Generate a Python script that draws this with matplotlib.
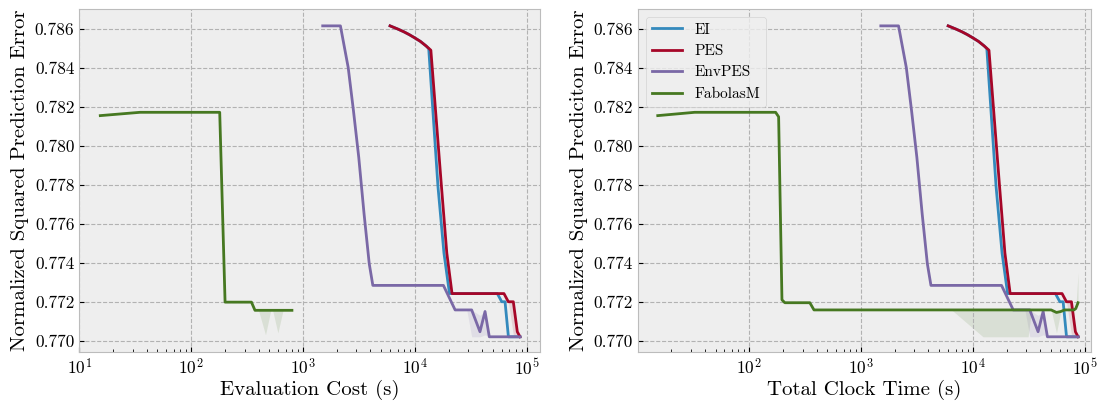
"""Recreate the two-panel convergence plot (evaluation cost / clock time)."""

import matplotlib

matplotlib.use("Agg")
import matplotlib.pyplot as plt

plt.style.use("bmh")
plt.rcParams.update({
    "font.family": "cmr10",
    "mathtext.fontset": "cm",
    "axes.formatter.use_mathtext": True,
    "axes.unicode_minus": False,
    "grid.linewidth": 0.8,
    "xtick.direction": "in",
    "ytick.direction": "in",
})

COLORS = {"EI": "#348ABD", "PES": "#A60628", "EnvPES": "#7A68A6", "FabolasM": "#467821"}

# EI (same x in both panels)
ei_x = [6000, 7080, 7940, 8910, 10000, 11220, 12590, 13300, 16100, 18200, 20400, 54600, 59800, 64000, 68600,
        87100]
ei_y = [0.78617, 0.78600, 0.78587, 0.78572, 0.78555, 0.78537, 0.78514, 0.78500, 0.7779, 0.7745, 0.77242,
        0.77242, 0.7720, 0.7720, 0.7702, 0.7702]

# PES
pes_x = [6000, 7080, 7940, 8910, 10000, 11220, 12590, 13900, 17300, 19300, 21500, 62600, 68500, 75900, 82400,
         87100]
pes_y = [0.78617, 0.78600, 0.78587, 0.78572, 0.78555, 0.78537, 0.78514, 0.78492, 0.7779, 0.7745, 0.77242,
         0.77242, 0.7720, 0.7720, 0.77046, 0.7702]
pes_lo = [0.78617, 0.78600, 0.78587, 0.78572, 0.78555, 0.78537, 0.78514, 0.78492, 0.7779, 0.7745, 0.77242,
          0.77242, 0.7720, 0.7703, 0.77030, 0.7702]

# EnvPES
env_x = [1500, 2160, 2535, 2825, 3150, 3515, 3910, 4210, 18000, 22900, 29100, 32200, 38200, 42400, 46300, 87100]
env_y = [0.78617, 0.78617, 0.78403, 0.78181, 0.77942, 0.77651, 0.77395, 0.77284, 0.77284, 0.77158, 0.77158,
         0.77158, 0.77046, 0.7715, 0.7702, 0.7702]
env_lo = [0.78617, 0.78617, 0.78403, 0.78181, 0.77942, 0.77651, 0.77395, 0.77284, 0.77284, 0.77158, 0.77158,
          0.7702, 0.7702, 0.7703, 0.7702, 0.7702]
env_hi = [0.78617, 0.78617, 0.78403, 0.78181, 0.77942, 0.77651, 0.77395, 0.77284, 0.77284, 0.77158, 0.77158,
          0.77158, 0.7713, 0.7715, 0.7702, 0.7702]

# FabolasM, evaluation cost
fab_cost_x = [15.4, 34.9, 180, 201, 346, 372, 400, 462, 515, 535, 596, 663, 796]
fab_cost_y = [0.78156, 0.78173, 0.78173, 0.77198, 0.77198, 0.77156, 0.77156, 0.77156, 0.77156, 0.77156,
              0.77156, 0.77156, 0.77156]
fab_cost_lo = [0.78156, 0.78173, 0.78173, 0.77198, 0.77198, 0.77156, 0.77156, 0.7703, 0.77156, 0.77156,
               0.7704, 0.77156, 0.77156]

# FabolasM, total clock time
fab_time_x = [15.2, 32.5, 172, 183, 196, 208, 348, 379, 6440, 12300, 31100, 33500, 50000, 55800, 61000,
              66000, 80000, 83000, 87000]
fab_time_y = [0.78156, 0.78173, 0.78173, 0.78150, 0.77210, 0.77195, 0.77195, 0.77158, 0.77158, 0.77158,
              0.77158, 0.77158, 0.77158, 0.77145, 0.7715, 0.77158, 0.77158, 0.77165, 0.77195]
fab_time_lo = [0.78156, 0.78173, 0.78173, 0.78150, 0.77210, 0.77195, 0.77195, 0.77158, 0.77158, 0.7702,
               0.7702, 0.77158, 0.77158, 0.7704, 0.7715, 0.77158, 0.77158, 0.77165, 0.77195]
fab_time_hi = [0.78156, 0.78173, 0.78173, 0.78150, 0.77210, 0.77195, 0.77195, 0.77158, 0.77158, 0.77158,
               0.77158, 0.77158, 0.77158, 0.77145, 0.7715, 0.77158, 0.77158, 0.77165, 0.7735]

Y_TICKS = [0.770, 0.772, 0.774, 0.776, 0.778, 0.780, 0.782, 0.784, 0.786]


def draw_series(ax, name, x, y, lo=None, hi=None):
    color = COLORS[name]
    if lo is not None or hi is not None:
        ax.fill_between(x, lo if lo is not None else y, hi if hi is not None else y,
                        color=color, alpha=0.12, linewidth=0)
    ax.plot(x, y, color=color, linewidth=2.0, label=name)


def style_axis(ax, xlabel, ylabel, xlim):
    ax.set_xscale("log")
    ax.set_xlim(*xlim)
    ax.set_ylim(0.76942, 0.78702)
    ax.set_yticks(Y_TICKS)
    ax.set_yticklabels([f"{t:.3f}" for t in Y_TICKS])
    ax.set_xlabel(xlabel, fontsize=15, labelpad=2)
    ax.set_ylabel(ylabel, fontsize=15, labelpad=4)
    ax.tick_params(labelsize=12.5)
    ax.grid(True, which="major")
    ax.grid(False, which="minor")


fig = plt.figure(figsize=(11.03, 4.05), dpi=100)
ax_cost = fig.add_axes([0.0719, 0.1309, 0.4177, 0.8461])
ax_time = fig.add_axes([0.5784, 0.1309, 0.4107, 0.8461])

draw_series(ax_cost, "EI", ei_x, ei_y)
draw_series(ax_cost, "PES", pes_x, pes_y, lo=pes_lo)
draw_series(ax_cost, "EnvPES", env_x, env_y, lo=env_lo, hi=env_hi)
draw_series(ax_cost, "FabolasM", fab_cost_x, fab_cost_y, lo=fab_cost_lo)
style_axis(ax_cost, "Evaluation Cost (s)", "Normalized Squared Prediction Error", (10 ** 1.0, 10 ** 5.119))

draw_series(ax_time, "EI", ei_x, ei_y)
draw_series(ax_time, "PES", pes_x, pes_y, lo=pes_lo)
draw_series(ax_time, "EnvPES", env_x, env_y, lo=env_lo, hi=env_hi)
draw_series(ax_time, "FabolasM", fab_time_x, fab_time_y, lo=fab_time_lo, hi=fab_time_hi)
style_axis(ax_time, "Total Clock Time (s)", "Normalized Squared Prediciton Error", (10 ** 1.005, 10 ** 5.055))
ax_time.legend(loc="upper left", fontsize=11)

fig.savefig("out.png", dpi=100)
